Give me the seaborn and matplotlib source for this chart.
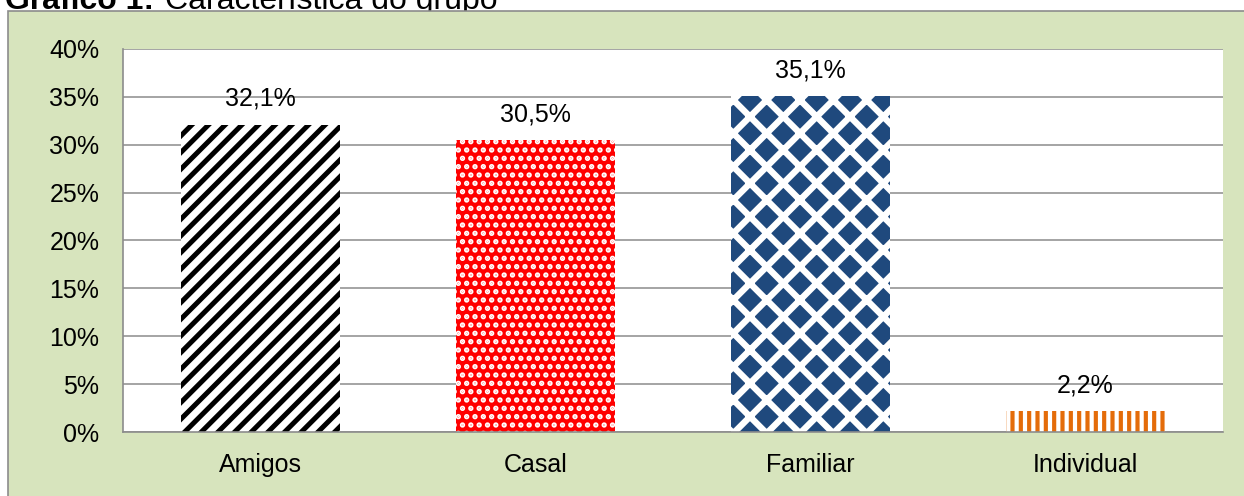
import matplotlib
matplotlib.use("Agg")
import matplotlib.pyplot as plt
from matplotlib.patches import Rectangle
import seaborn as sns

# ---- data ----
categories = ["Amigos", "Casal", "Familiar", "Individual"]
values = [32.1, 30.5, 35.1, 2.2]
value_labels = ["32,1%", "30,5%", "35,1%", "2,2%"]
yticks = [0, 5, 10, 15, 20, 25, 30, 35, 40]
ytick_labels = ["0%", "5%", "10%", "15%", "20%", "25%", "30%", "35%", "40%"]
title_bold = "Gráfico 1:"
title_rest = "Característica do grupo"

# ---- styles ----
face_colors = ["#FFFFFF", "#FF0000", "#1F497D", "#FFFFFF"]
hatch_colors = ["#000000", "#FFFFFF", "#FFFFFF", "#E46C0A"]
hatches = ["//", "..", "x", "||"]
hatch_lws = [3.6, 2.6, 4.6, 3.0]

sns.set_style("white")
plt.rcParams["font.family"] = ["Liberation Sans", "DejaVu Sans"]
GRID = "#8C8C8C"
PANEL = "#D7E4BD"

W, H = 1244, 496
fig = plt.figure(figsize=(W / 100, H / 100), dpi=100)
fig.patch.set_facecolor("white")

# green panel
panel = Rectangle((8 / W, -0.05), 1.2, 1 - 11 / H + 0.05, transform=fig.transFigure,
                  facecolor=PANEL, edgecolor=GRID, linewidth=1.2, zorder=-1)
fig.patches.append(panel)

# partially hidden title (cut at the top edge as in the reference)
fig.text(5 / W, 1 - 9 / H, title_bold, fontsize=23, fontweight="bold",
         va="baseline", ha="left", color="#000000", zorder=-2)
fig.text(165 / W, 1 - 9 / H, title_rest, fontsize=23,
         va="baseline", ha="left", color="#000000", zorder=-2)

ax = fig.add_axes([123 / W, 1 - 432 / H, 1100 / W, 383 / H])
ax.set_facecolor("white")

sns.barplot(x=categories, y=values, color="white", width=0.575, ax=ax,
            saturation=1, errorbar=None, zorder=3)

for p, fc, hc, hp, hl in zip(ax.patches, face_colors, hatch_colors, hatches, hatch_lws):
    p.set_facecolor(fc)
    p.set_edgecolor(hc)
    p.set_linewidth(0)
    p.set_hatch(hp)
    if hasattr(p, "set_hatch_linewidth"):
        p.set_hatch_linewidth(hl)

for p, lab in zip(ax.patches, value_labels):
    ax.annotate(lab, (p.get_x() + p.get_width() / 2, p.get_height()),
                xytext=(0, 10), textcoords="offset points",
                ha="center", va="bottom", fontsize=18, color="#000000")

ax.set_xlim(-0.5, 3.5)
ax.set_ylim(0, 40)
ax.set_yticks(yticks)
ax.set_yticklabels(ytick_labels)
ax.set_xlabel("")
ax.set_ylabel("")
ax.tick_params(axis="y", length=0, pad=17, labelsize=18, labelcolor="#000000")
ax.tick_params(axis="x", length=0, pad=15, labelsize=18, labelcolor="#000000")

ax.yaxis.grid(True, color=GRID, linewidth=1.1)
ax.set_axisbelow(True)
for s in ["top", "right"]:
    ax.spines[s].set_visible(False)
for s in ["left", "bottom"]:
    ax.spines[s].set_visible(True)
    ax.spines[s].set_color(GRID)
    ax.spines[s].set_linewidth(1.2)
    ax.spines[s].set_zorder(4)

fig.savefig("out.png", dpi=100)
